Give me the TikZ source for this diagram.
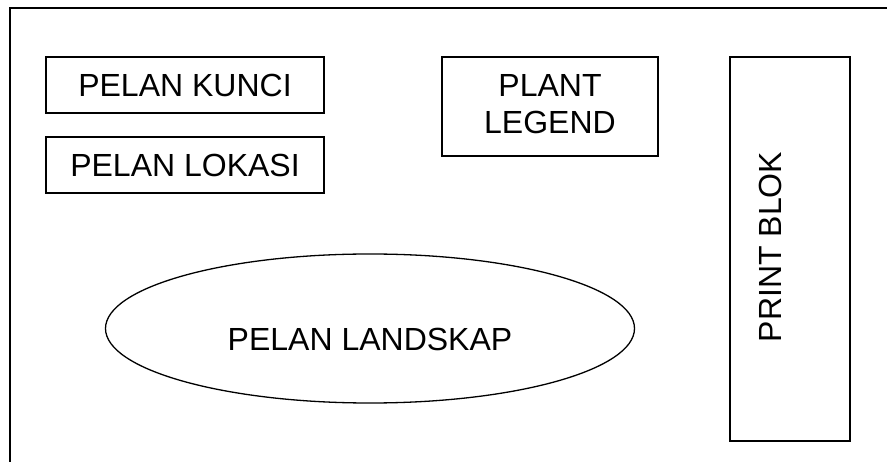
\documentclass[tikz,border=0pt]{standalone}
\usepackage{fontspec}
\setmainfont{Liberation Sans}
\usetikzlibrary{shapes.geometric}
\begin{document}
\begin{tikzpicture}[x=1pt,y=-1pt,
  lbl/.style={font=\fontsize{32}{36.5}\selectfont, inner sep=0pt},
  boxx/.style={draw, line width=1.6pt, rectangle, inner sep=0pt, font=\fontsize{32}{36.5}\selectfont},
  frame/.style={line width=2pt}]
\useasboundingbox (0,0) rectangle (887,462);
\fill[white] (0,0) rectangle (887,462);
% outer frame (top and left edges visible)
\coordinate (fbl) at (10,463);
\coordinate (ftl) at (10,8.5);
\coordinate (ftr) at (888,8.5);
\draw[frame] (fbl) -- (ftl) -- (ftr);
% boxes
\node[boxx, minimum width=278pt, minimum height=56pt] (kunci) at (185,85) {PELAN KUNCI};
\node[boxx, minimum width=278pt, minimum height=56pt] (lokasi) at (185,165) {PELAN LOKASI};
\node[boxx, minimum width=216pt, minimum height=99pt] (legendbox) at (550,106.5) {};
\node[lbl, align=center] (legend) at (550,104) {PLANT\\LEGEND};
\node[boxx, minimum width=120pt, minimum height=384pt] (printbox) at (790,249) {};
\node[lbl, rotate=90] (print) at (770,247) {PRINT BLOK};
% ellipse
\node[draw, ellipse, line width=1.3pt, minimum width=529pt, minimum height=149pt, inner sep=0pt] (land) at (370,328.5) {};
\node[lbl] (landtxt) at (370,339) {PELAN LANDSKAP};
\end{tikzpicture}
\end{document}
